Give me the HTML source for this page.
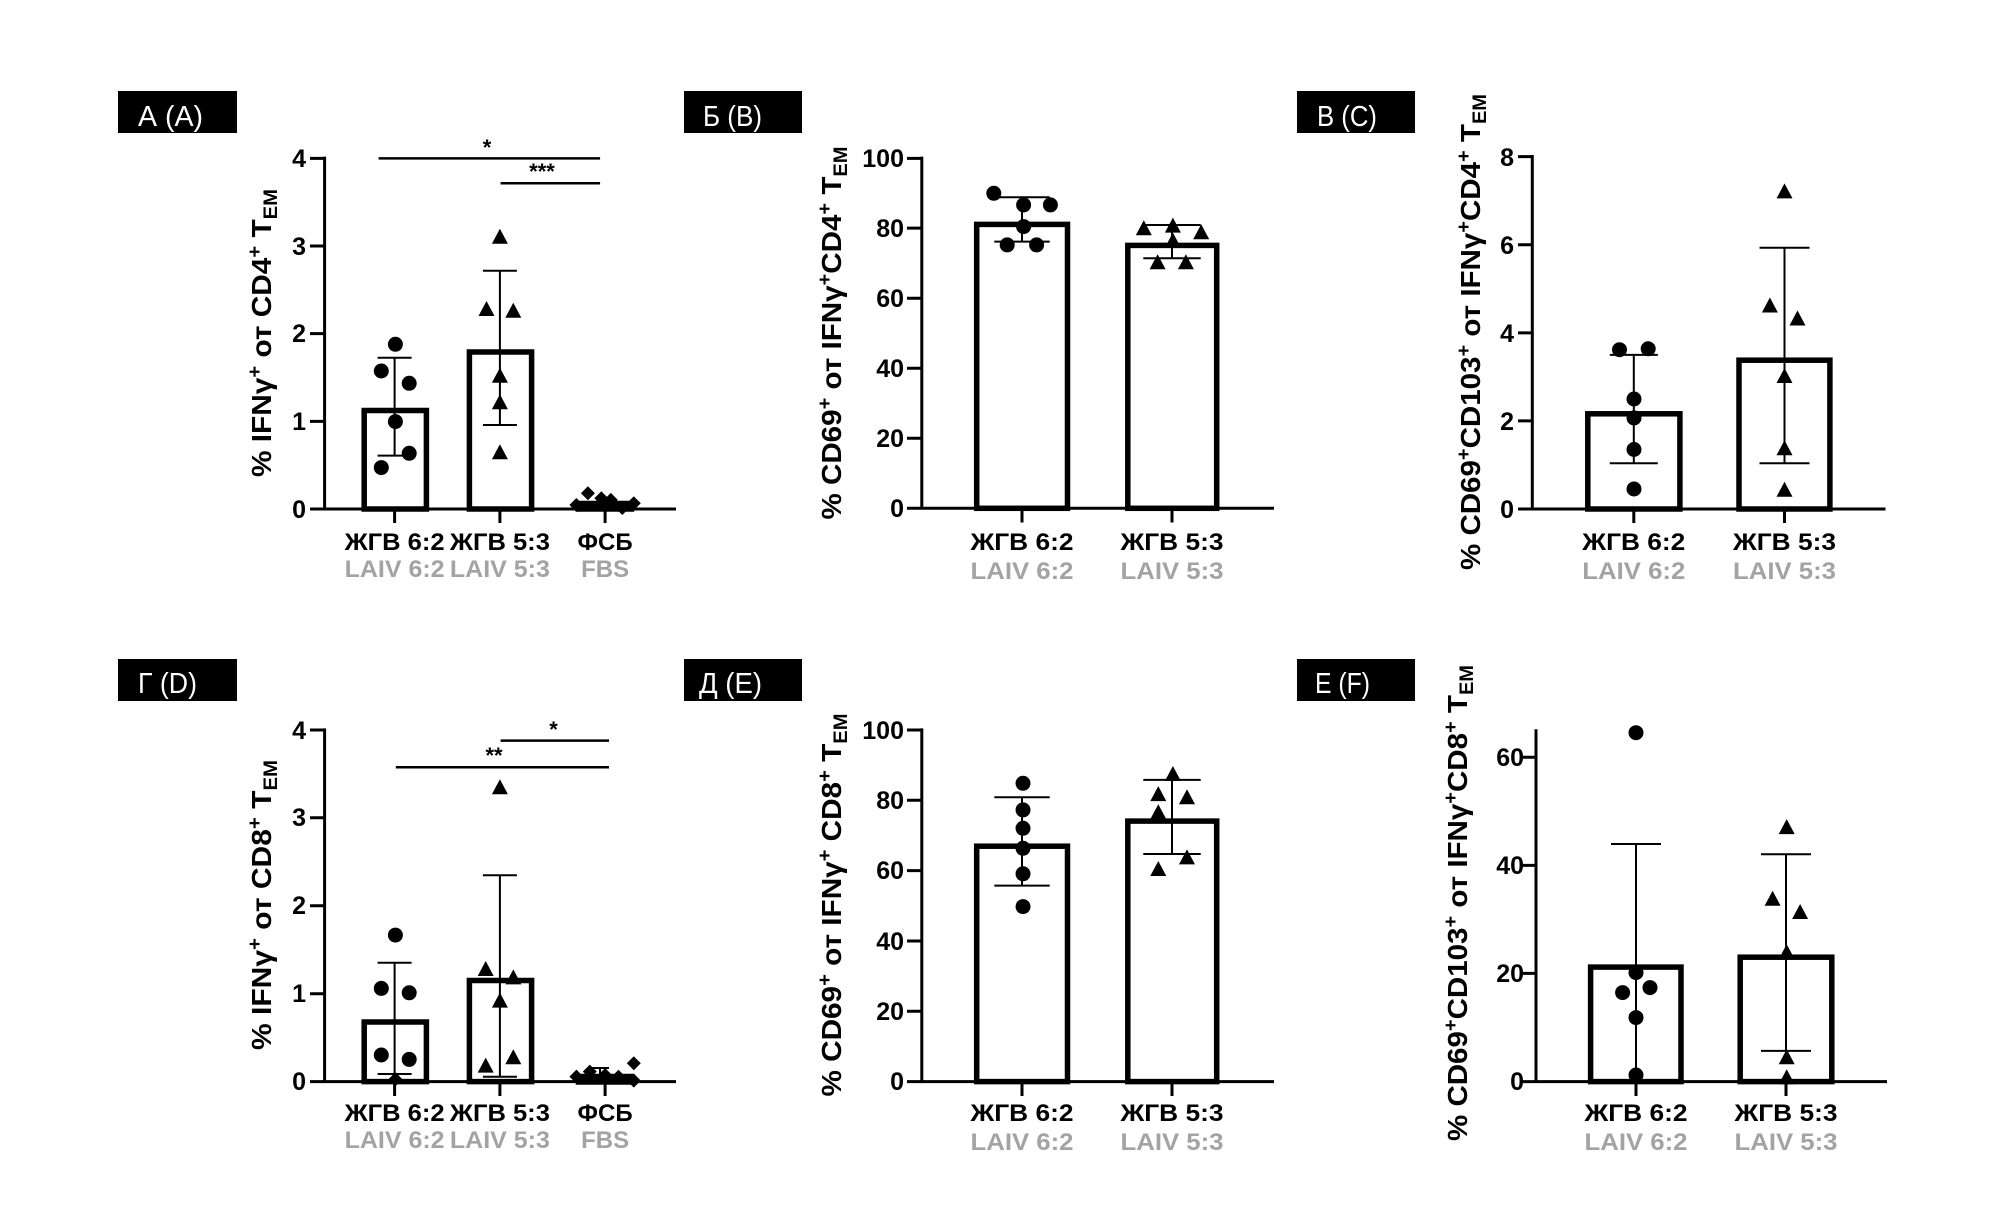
<!DOCTYPE html>
<html><head><meta charset="utf-8"><style>
html,body{margin:0;padding:0;background:#fff;}
svg{display:block;font-family:"Liberation Sans",Arial,sans-serif;}
.ax{stroke:#000;stroke-width:3;fill:none;}
.bar{stroke:#000;stroke-width:5.5;fill:#fff;}
.er{stroke:#000;stroke-width:2;fill:none;}
.tl{font-size:25px;font-weight:bold;text-anchor:end;}
.xl{font-size:24px;font-weight:bold;text-anchor:middle;}
.gl{font-size:24px;font-weight:bold;text-anchor:middle;fill:#a3a3a3;}
.yt{font-size:28px;font-weight:bold;text-anchor:middle;}
.lb{font-size:29px;fill:#fff;}
.st{font-size:22px;font-weight:bold;text-anchor:middle;}
</style></head><body>
<svg width="2008" height="1206" viewBox="0 0 2008 1206" xmlns="http://www.w3.org/2000/svg">
<defs>
<circle id="d" r="7.5" fill="#000"/>
<polygon id="t" points="0,-9 8,6 -8,6" fill="#000"/>
<polygon id="q" points="0,-7 7,0 0,7 -7,0" fill="#000"/>
</defs>

<rect x="118" y="91" width="119" height="42" fill="#000"/>
<text class="lb" x="138" y="126" textLength="65" lengthAdjust="spacingAndGlyphs">А (A)</text>
<rect x="684" y="91" width="118" height="42" fill="#000"/>
<text class="lb" x="703" y="126" textLength="59" lengthAdjust="spacingAndGlyphs">Б (B)</text>
<rect x="1297" y="91" width="118" height="42" fill="#000"/>
<text class="lb" x="1317" y="126" textLength="60" lengthAdjust="spacingAndGlyphs">В (C)</text>
<rect x="118" y="659" width="119" height="42" fill="#000"/>
<text class="lb" x="138" y="693" textLength="59" lengthAdjust="spacingAndGlyphs">Г (D)</text>
<rect x="684" y="659" width="118" height="42" fill="#000"/>
<text class="lb" x="699" y="693" textLength="63" lengthAdjust="spacingAndGlyphs">Д (E)</text>
<rect x="1297" y="659" width="118" height="42" fill="#000"/>
<text class="lb" x="1315" y="693" textLength="55" lengthAdjust="spacingAndGlyphs">Е (F)</text>

<!-- Panel A -->
<g>
<text class="yt" transform="translate(271,333) rotate(-90)" textLength="288" lengthAdjust="spacingAndGlyphs">% IFNγ<tspan dy="-10" font-size="19">+</tspan><tspan dy="10"> от CD4</tspan><tspan dy="-10" font-size="19">+</tspan><tspan dy="10"> T</tspan><tspan dy="6" font-size="19">EM</tspan></text>
<rect class="bar" x="364.2" y="410.5" width="62.2" height="98.5"/>
<rect class="bar" x="469.4" y="352" width="62.2" height="157"/>
<rect class="bar" x="578.5" y="503.5" width="53" height="5.5"/>
<path class="ax" d="M324.6,156.6V510.3M323,509H676M310,509H324.6M310,421.4H324.6M310,333.6H324.6M310,246H324.6M310,158.4H324.6M394.6,509V523M499.9,509V523M605.1,509V523"/>
<text class="tl" x="306" y="518">0</text><text class="tl" x="306" y="430">1</text><text class="tl" x="306" y="342">2</text><text class="tl" x="306" y="255">3</text><text class="tl" x="306" y="167">4</text>
<path class="er" d="M394.6,357.7V455.6M377.6,357.7H411.6M377.6,455.6H411.6M499.9,270.7V425M482.9,270.7H516.9M482.9,425H516.9"/>
<path stroke="#000" stroke-width="2.5" d="M378.6,158.4H600.1M500.6,183.3H600.1"/>
<text class="st" x="487" y="155">*</text><text class="st" x="542" y="179">***</text>
<use href="#d" x="395.4" y="344.3"/><use href="#d" x="381.3" y="371"/><use href="#d" x="409.2" y="383.3"/><use href="#d" x="395.4" y="421.6"/><use href="#d" x="409.2" y="453.3"/><use href="#d" x="381.3" y="467.6"/>
<use href="#t" x="499.9" y="237.7"/><use href="#t" x="486.5" y="310"/><use href="#t" x="513.3" y="311.7"/><use href="#t" x="499.9" y="376.7"/><use href="#t" x="499.9" y="403.3"/><use href="#t" x="499.9" y="453.3"/>
<use href="#q" x="576.4" y="505"/><use href="#q" x="587.9" y="493.3"/><use href="#q" x="601.3" y="498.3"/><use href="#q" x="610.8" y="499.9"/><use href="#q" x="622.3" y="508"/><use href="#q" x="633.8" y="503.3"/>
<text class="xl" x="394.6" y="550" textLength="100" lengthAdjust="spacingAndGlyphs">ЖГВ 6:2</text><text class="xl" x="499.9" y="550" textLength="100" lengthAdjust="spacingAndGlyphs">ЖГВ 5:3</text><text class="xl" x="605.1" y="550">ФСБ</text>
<text class="gl" x="394.6" y="577" textLength="100" lengthAdjust="spacingAndGlyphs">LAIV 6:2</text><text class="gl" x="499.9" y="577" textLength="100" lengthAdjust="spacingAndGlyphs">LAIV 5:3</text><text class="gl" x="605.1" y="577">FBS</text>
</g>

<!-- Panel B -->
<g>
<text class="yt" transform="translate(841,333) rotate(-90)" textLength="373" lengthAdjust="spacingAndGlyphs">% CD69<tspan dy="-10" font-size="19">+</tspan><tspan dy="10"> от IFNγ</tspan><tspan dy="-10" font-size="19">+</tspan><tspan dy="10">CD4</tspan><tspan dy="-10" font-size="19">+</tspan><tspan dy="10"> T</tspan><tspan dy="6" font-size="19">EM</tspan></text>
<rect class="bar" x="976.7" y="224.4" width="90.8" height="283.9"/>
<rect class="bar" x="1127.8" y="245.4" width="88.9" height="262.9"/>
<path class="ax" d="M921.8,156.6V509.4M920,508.3H1274M907,508.3H921.8M907,438.3H921.8M907,368.2H921.8M907,298.2H921.8M907,228.1H921.8M907,158.4H921.8M1022,508.3V522.5M1172,508.3V522.5"/>
<text class="tl" x="904" y="517">0</text><text class="tl" x="904" y="447">20</text><text class="tl" x="904" y="377">40</text><text class="tl" x="904" y="307">60</text><text class="tl" x="904" y="237">80</text><text class="tl" x="904" y="167">100</text>
<path class="er" d="M1022,197.3V241.6M994.3,197.3H1049.7M994.3,241.6H1049.7M1172,225V258.3M1143.3,225H1200.7M1143.3,258.3H1200.7"/>
<use href="#d" x="993.8" y="193.3"/><use href="#d" x="1023.6" y="204.9"/><use href="#d" x="1050.4" y="204.9"/><use href="#d" x="1023.6" y="226.6"/><use href="#d" x="1007.2" y="244.9"/><use href="#d" x="1036.6" y="244.9"/>
<use href="#t" x="1143.8" y="229.3"/><use href="#t" x="1172.9" y="226.6"/><use href="#t" x="1201.2" y="233.3"/><use href="#t" x="1172.9" y="241.6"/><use href="#t" x="1157.6" y="263.3"/><use href="#t" x="1185.9" y="263.3"/>
<text class="xl" x="1022" y="550" textLength="103" lengthAdjust="spacingAndGlyphs">ЖГВ 6:2</text><text class="xl" x="1172" y="550" textLength="103" lengthAdjust="spacingAndGlyphs">ЖГВ 5:3</text>
<text class="gl" x="1022" y="579" textLength="103" lengthAdjust="spacingAndGlyphs">LAIV 6:2</text><text class="gl" x="1172" y="579" textLength="103" lengthAdjust="spacingAndGlyphs">LAIV 5:3</text>
</g>

<!-- Panel C -->
<g>
<text class="yt" transform="translate(1480,332) rotate(-90)" textLength="476" lengthAdjust="spacingAndGlyphs">% CD69<tspan dy="-10" font-size="19">+</tspan><tspan dy="10">CD103</tspan><tspan dy="-10" font-size="19">+</tspan><tspan dy="10"> от IFNγ</tspan><tspan dy="-10" font-size="19">+</tspan><tspan dy="10">CD4</tspan><tspan dy="-10" font-size="19">+</tspan><tspan dy="10"> T</tspan><tspan dy="6" font-size="19">EM</tspan></text>
<rect class="bar" x="1587.8" y="413.8" width="92.1" height="95.2"/>
<rect class="bar" x="1739" y="360.2" width="90.9" height="148.8"/>
<path class="ax" d="M1532.3,155V510.3M1531,509H1885.5M1518,509H1532.3M1518,420.9H1532.3M1518,332.9H1532.3M1518,244.7H1532.3M1518,156.6H1532.3M1633.8,509V523M1784.5,509V523"/>
<text class="tl" x="1514" y="518">0</text><text class="tl" x="1514" y="430">2</text><text class="tl" x="1514" y="342">4</text><text class="tl" x="1514" y="254">6</text><text class="tl" x="1514" y="166">8</text>
<path class="er" d="M1633.8,354.9V463.2M1609.8,354.9H1657.8M1609.8,463.2H1657.8M1784.5,247.7V463.2M1759.5,247.7H1809.5M1759.5,463.2H1809.5"/>
<use href="#d" x="1619.5" y="349.7"/><use href="#d" x="1648.2" y="348.8"/><use href="#d" x="1634" y="399"/><use href="#d" x="1634" y="417.9"/><use href="#d" x="1634" y="449.5"/><use href="#d" x="1634" y="489"/>
<use href="#t" x="1784.5" y="192.4"/><use href="#t" x="1769.9" y="306.5"/><use href="#t" x="1797.5" y="319.5"/><use href="#t" x="1784.5" y="377"/><use href="#t" x="1784.5" y="449.3"/><use href="#t" x="1784.5" y="490.8"/>
<text class="xl" x="1633.8" y="550" textLength="103" lengthAdjust="spacingAndGlyphs">ЖГВ 6:2</text><text class="xl" x="1784.5" y="550" textLength="103" lengthAdjust="spacingAndGlyphs">ЖГВ 5:3</text>
<text class="gl" x="1633.8" y="579" textLength="103" lengthAdjust="spacingAndGlyphs">LAIV 6:2</text><text class="gl" x="1784.5" y="579" textLength="103" lengthAdjust="spacingAndGlyphs">LAIV 5:3</text>
</g>

<!-- Panel D -->
<g>
<text class="yt" transform="translate(271,905) rotate(-90)" textLength="290" lengthAdjust="spacingAndGlyphs">% IFNγ<tspan dy="-10" font-size="19">+</tspan><tspan dy="10"> от CD8</tspan><tspan dy="-10" font-size="19">+</tspan><tspan dy="10"> T</tspan><tspan dy="6" font-size="19">EM</tspan></text>
<rect class="bar" x="364.2" y="1022" width="62.2" height="59.6"/>
<rect class="bar" x="469.4" y="980.5" width="62.2" height="101.1"/>
<rect class="bar" x="578.5" y="1076.5" width="53" height="5.5"/>
<path class="ax" d="M324.6,728.4V1082.9M323,1081.6H676M310,1081.6H324.6M310,993.7H324.6M310,905.7H324.6M310,817.8H324.6M310,730H324.6M394.6,1081.6V1096M499.9,1081.6V1096M605.1,1081.6V1096"/>
<text class="tl" x="306" y="1090">0</text><text class="tl" x="306" y="1002">1</text><text class="tl" x="306" y="914">2</text><text class="tl" x="306" y="826">3</text><text class="tl" x="306" y="739">4</text>
<path class="er" d="M394.6,962.7V1074M377.6,962.7H411.6M377.6,1074H411.6M499.9,875.3V1076.7M482.9,875.3H516.9M482.9,1076.7H516.9M600,1068V1081M591,1068H609"/>
<path stroke="#000" stroke-width="2.5" d="M500.6,740.6H609M395.8,767.3H609"/>
<text class="st" x="553.5" y="737">*</text><text class="st" x="494" y="763">**</text>
<use href="#d" x="395.4" y="935.1"/><use href="#d" x="381.3" y="988.4"/><use href="#d" x="409.2" y="992.8"/><use href="#d" x="381.3" y="1055"/><use href="#d" x="409.2" y="1059.4"/><use href="#q" x="395.4" y="1079.3"/>
<use href="#t" x="499.9" y="788.3"/><use href="#t" x="485.7" y="970"/><use href="#t" x="513.3" y="978.4"/><use href="#t" x="499.9" y="1001.6"/><use href="#t" x="485.7" y="1066.6"/><use href="#t" x="513.3" y="1058.3"/>
<use href="#q" x="576.4" y="1076.6"/><use href="#q" x="589.8" y="1071.6"/><use href="#q" x="605.1" y="1075"/><use href="#q" x="618.5" y="1076.7"/><use href="#q" x="633.8" y="1063.3"/><use href="#q" x="633.8" y="1080.6"/>
<text class="xl" x="394.6" y="1121" textLength="100" lengthAdjust="spacingAndGlyphs">ЖГВ 6:2</text><text class="xl" x="499.9" y="1121" textLength="100" lengthAdjust="spacingAndGlyphs">ЖГВ 5:3</text><text class="xl" x="605.1" y="1121">ФСБ</text>
<text class="gl" x="394.6" y="1148" textLength="100" lengthAdjust="spacingAndGlyphs">LAIV 6:2</text><text class="gl" x="499.9" y="1148" textLength="100" lengthAdjust="spacingAndGlyphs">LAIV 5:3</text><text class="gl" x="605.1" y="1148">FBS</text>
</g>

<!-- Panel E -->
<g>
<text class="yt" transform="translate(841,905) rotate(-90)" textLength="383" lengthAdjust="spacingAndGlyphs">% CD69<tspan dy="-10" font-size="19">+</tspan><tspan dy="10"> от IFNγ</tspan><tspan dy="-10" font-size="19">+</tspan><tspan dy="10"> CD8</tspan><tspan dy="-10" font-size="19">+</tspan><tspan dy="10"> T</tspan><tspan dy="6" font-size="19">EM</tspan></text>
<rect class="bar" x="976.7" y="846.2" width="90.8" height="235.4"/>
<rect class="bar" x="1127.8" y="821.1" width="88.9" height="260.5"/>
<path class="ax" d="M921.8,728.4V1082.9M920,1081.6H1274M907,1081.6H921.8M907,1011.3H921.8M907,941H921.8M907,870.6H921.8M907,800.3H921.8M907,730H921.8M1022,1081.6V1096M1172,1081.6V1096"/>
<text class="tl" x="904" y="1090">0</text><text class="tl" x="904" y="1020">20</text><text class="tl" x="904" y="950">40</text><text class="tl" x="904" y="879">60</text><text class="tl" x="904" y="809">80</text><text class="tl" x="904" y="739">100</text>
<path class="er" d="M1022,797.2V885.6M994.3,797.2H1049.7M994.3,885.6H1049.7M1172,779.9V854M1143.3,779.9H1200.7M1143.3,854H1200.7"/>
<use href="#d" x="1023" y="783.3"/><use href="#d" x="1023" y="809.9"/><use href="#d" x="1023" y="828.3"/><use href="#d" x="1023" y="848.3"/><use href="#d" x="1023" y="873.8"/><use href="#d" x="1023" y="906.6"/>
<use href="#t" x="1172.9" y="775"/><use href="#t" x="1158.3" y="795.1"/><use href="#t" x="1187" y="798.3"/><use href="#t" x="1158.3" y="813.3"/><use href="#t" x="1187" y="858.4"/><use href="#t" x="1158.3" y="870"/>
<text class="xl" x="1022" y="1121" textLength="103" lengthAdjust="spacingAndGlyphs">ЖГВ 6:2</text><text class="xl" x="1172" y="1121" textLength="103" lengthAdjust="spacingAndGlyphs">ЖГВ 5:3</text>
<text class="gl" x="1022" y="1150" textLength="103" lengthAdjust="spacingAndGlyphs">LAIV 6:2</text><text class="gl" x="1172" y="1150" textLength="103" lengthAdjust="spacingAndGlyphs">LAIV 5:3</text>
</g>

<!-- Panel F -->
<g>
<text class="yt" transform="translate(1467,903) rotate(-90)" textLength="476" lengthAdjust="spacingAndGlyphs">% CD69<tspan dy="-10" font-size="19">+</tspan><tspan dy="10">CD103</tspan><tspan dy="-10" font-size="19">+</tspan><tspan dy="10"> от IFNγ</tspan><tspan dy="-10" font-size="19">+</tspan><tspan dy="10">CD8</tspan><tspan dy="-10" font-size="19">+</tspan><tspan dy="10"> T</tspan><tspan dy="6" font-size="19">EM</tspan></text>
<rect class="bar" x="1590.6" y="967.1" width="90.4" height="114.5"/>
<rect class="bar" x="1740.2" y="957.2" width="91.6" height="124.4"/>
<path class="ax" d="M1536,729.3V1082.9M1534.5,1081.6H1887M1522,1081.6H1536M1522,973.4H1536M1522,865.4H1536M1522,757.3H1536M1636,1081.6V1096M1786,1081.6V1096"/>
<text class="tl" x="1524" y="1090">0</text><text class="tl" x="1524" y="982">20</text><text class="tl" x="1524" y="874">40</text><text class="tl" x="1524" y="766">60</text>
<path class="er" d="M1636,844V1081.6M1611,844H1661M1786,854.3V1050.9M1761,854.3H1811M1761,1050.9H1811"/>
<use href="#d" x="1636" y="732.7"/><use href="#d" x="1636" y="972.6"/><use href="#d" x="1622.6" y="992.6"/><use href="#d" x="1650" y="987.6"/><use href="#d" x="1636" y="1017.6"/><use href="#d" x="1636" y="1075"/>
<use href="#t" x="1786.7" y="828.1"/><use href="#t" x="1772.6" y="899.7"/><use href="#t" x="1800.1" y="913"/><use href="#t" x="1786.7" y="953.3"/><use href="#t" x="1786.7" y="1058.3"/><use href="#t" x="1786.7" y="1078.3"/>
<text class="xl" x="1636" y="1121" textLength="103" lengthAdjust="spacingAndGlyphs">ЖГВ 6:2</text><text class="xl" x="1786" y="1121" textLength="103" lengthAdjust="spacingAndGlyphs">ЖГВ 5:3</text>
<text class="gl" x="1636" y="1150" textLength="103" lengthAdjust="spacingAndGlyphs">LAIV 6:2</text><text class="gl" x="1786" y="1150" textLength="103" lengthAdjust="spacingAndGlyphs">LAIV 5:3</text>
</g>
</svg>
</body></html>
